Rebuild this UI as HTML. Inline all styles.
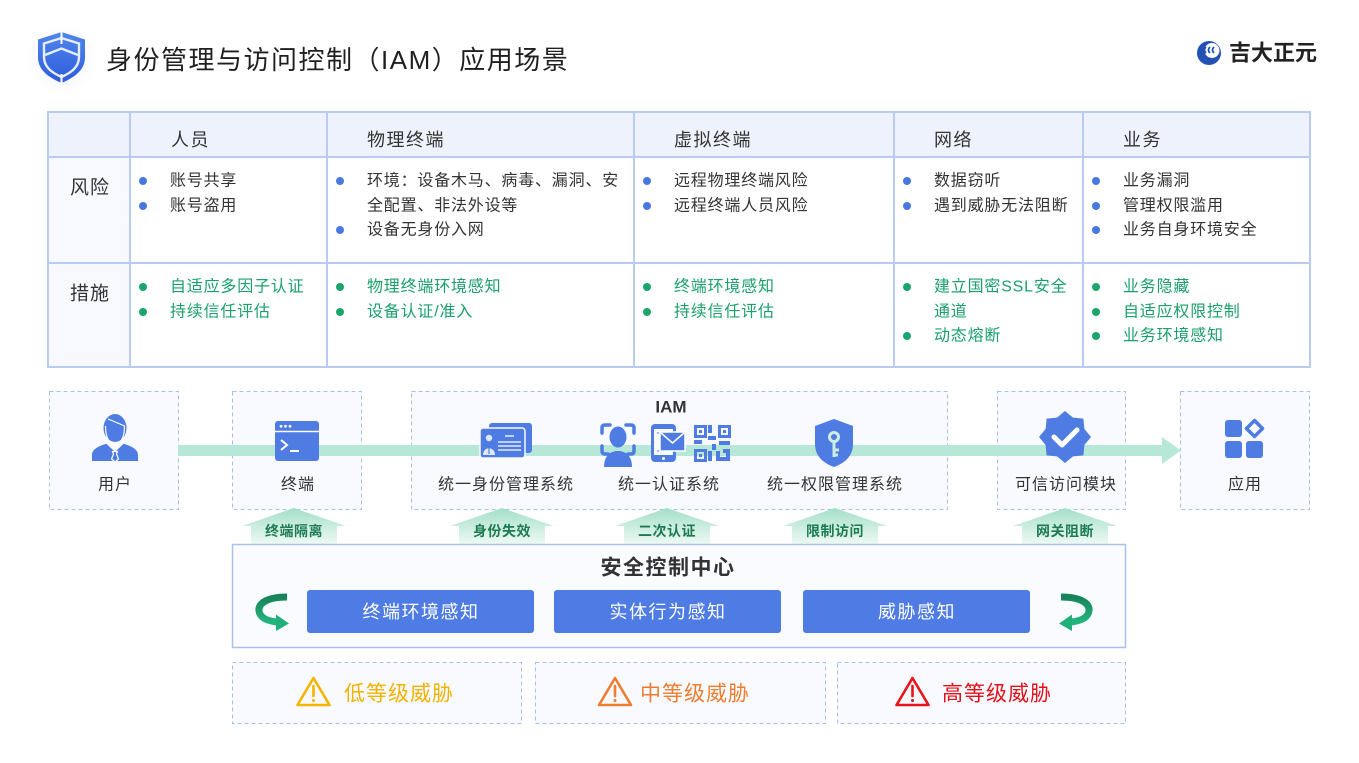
<!DOCTYPE html>
<html><head><meta charset="utf-8"><style>
html,body{margin:0;padding:0;background:#fff;}
svg{display:block;}
text{font-family:"Liberation Sans","Noto Sans CJK SC",sans-serif;}
</style></head><body>
<svg width="1359" height="763" viewBox="0 0 1359 763" xmlns="http://www.w3.org/2000/svg">
<defs>
<radialGradient id="glow" cx="0.5" cy="0.5" r="0.5">
<stop offset="0" stop-color="#d9e2fb"/><stop offset="1" stop-color="#ffffff" stop-opacity="0"/>
</radialGradient>
<linearGradient id="shg" x1="0" y1="0" x2="0" y2="1">
<stop offset="0" stop-color="#4f86ee"/><stop offset="1" stop-color="#2f5cdc"/>
</linearGradient>
<linearGradient id="upg" x1="0" y1="0" x2="0" y2="1">
<stop offset="0" stop-color="#a3dfc8"/><stop offset="1" stop-color="#eef9f4"/>
</linearGradient>
<linearGradient id="cg" x1="0" y1="0" x2="0" y2="1">
<stop offset="0" stop-color="#16835a"/><stop offset="1" stop-color="#24b57e"/>
</linearGradient>
</defs>
<rect width="1359" height="763" fill="#fff"/>

<!-- Title -->
<circle cx="62" cy="60" r="40" fill="url(#glow)"/>
<path d="M61.5,32 L85,39.5 L85,57 C85,70 75,77 61.5,83 C48,77 38,70 38,57 L38,39.5 Z" fill="url(#shg)"/>
<path d="M61.5,38 L79,43.5 L79,57 C79,67 71.5,72.5 61.5,77 C51.5,72.5 44,67 44,57 L44,43.5 Z" fill="none" stroke="#e6edfc" stroke-width="2.4"/>
<path d="M45,55 L61.5,48.5 L78,55" fill="none" stroke="#e6edfc" stroke-width="2.4"/>
<line x1="61.5" y1="32" x2="61.5" y2="44" stroke="#ffffff" stroke-width="2"/>
<line x1="61.5" y1="74" x2="61.5" y2="83" stroke="#ffffff" stroke-width="2"/>
<text x="106" y="60" font-size="26" fill="#1f1f1f" letter-spacing="1.5" dominant-baseline="central">身份管理与访问控制（IAM）应用场景</text>

<!-- Logo -->
<circle cx="1209" cy="53" r="12" fill="#2352b5"/>
<circle cx="1212" cy="50.5" r="7.5" fill="#ffffff"/>
<path d="M1206,47 q-3,3 0,6 M1210,47 q-3,3 0,6 M1214,47 q-3,3 0,6" stroke="#2352b5" stroke-width="1.8" fill="none"/>
<text x="1229" y="53" font-size="22" font-weight="bold" fill="#222" dominant-baseline="central">吉大正元</text>

<!-- Table -->
<rect x="48" y="112" width="1262" height="255" fill="#fff"/>
<rect x="48" y="112" width="1262" height="45" fill="#edf2fc"/>
<rect x="48" y="157" width="82" height="210" fill="#f7f9fe"/>
<g stroke="#b9cbf0" stroke-width="2" fill="none">
<rect x="48" y="112" width="1262" height="255"/>
<line x1="48" y1="157" x2="1310" y2="157"/>
<line x1="48" y1="263" x2="1310" y2="263"/>
<line x1="130" y1="112" x2="130" y2="367"/>
<line x1="327" y1="112" x2="327" y2="367"/>
<line x1="634" y1="112" x2="634" y2="367"/>
<line x1="894" y1="112" x2="894" y2="367"/>
<line x1="1083" y1="112" x2="1083" y2="367"/>
</g>
<g font-size="18" fill="#333" letter-spacing="1.5" dominant-baseline="central">
<text x="171" y="140">人员</text>
<text x="367" y="140">物理终端</text>
<text x="674" y="140">虚拟终端</text>
<text x="934" y="140">网络</text>
<text x="1123" y="140">业务</text>
</g>
<g font-size="19" fill="#333" letter-spacing="1" dominant-baseline="central">
<text x="70" y="188">风险</text>
<text x="70" y="294">措施</text>
</g>
<g fill="#4a78e0">
<circle cx="143" cy="181" r="4"/><circle cx="143" cy="206" r="4"/>
<circle cx="340" cy="181" r="4"/><circle cx="340" cy="230" r="4"/>
<circle cx="647" cy="181" r="4"/><circle cx="647" cy="206" r="4"/>
<circle cx="907" cy="181" r="4"/><circle cx="907" cy="206" r="4"/>
<circle cx="1096" cy="181" r="4"/><circle cx="1096" cy="206" r="4"/><circle cx="1096" cy="230" r="4"/>
</g>
<g fill="#1aa56e">
<circle cx="143" cy="287" r="4"/><circle cx="143" cy="312" r="4"/>
<circle cx="340" cy="287" r="4"/><circle cx="340" cy="312" r="4"/>
<circle cx="647" cy="287" r="4"/><circle cx="647" cy="312" r="4"/>
<circle cx="907" cy="287" r="4"/><circle cx="907" cy="336" r="4"/>
<circle cx="1096" cy="287" r="4"/><circle cx="1096" cy="312" r="4"/><circle cx="1096" cy="336" r="4"/>
</g>
<g font-size="16" fill="#333" letter-spacing="0.8" dominant-baseline="central">
<text x="170" y="181">账号共享</text>
<text x="170" y="206">账号盗用</text>
<text x="367" y="181">环境：设备木马、病毒、漏洞、安</text>
<text x="367" y="206">全配置、非法外设等</text>
<text x="367" y="230">设备无身份入网</text>
<text x="674" y="181">远程物理终端风险</text>
<text x="674" y="206">远程终端人员风险</text>
<text x="934" y="181">数据窃听</text>
<text x="934" y="206">遇到威胁无法阻断</text>
<text x="1123" y="181">业务漏洞</text>
<text x="1123" y="206">管理权限滥用</text>
<text x="1123" y="230">业务自身环境安全</text>
</g>
<g font-size="16" fill="#1aa06b" letter-spacing="0.8" dominant-baseline="central">
<text x="170" y="287">自适应多因子认证</text>
<text x="170" y="312">持续信任评估</text>
<text x="367" y="287">物理终端环境感知</text>
<text x="367" y="312">设备认证/准入</text>
<text x="674" y="287">终端环境感知</text>
<text x="674" y="312">持续信任评估</text>
<text x="934" y="287">建立国密SSL安全</text>
<text x="934" y="312">通道</text>
<text x="934" y="336">动态熔断</text>
<text x="1123" y="287">业务隐藏</text>
<text x="1123" y="312">自适应权限控制</text>
<text x="1123" y="336">业务环境感知</text>
</g>

<!-- Flow boxes -->
<g fill="#f8faff" stroke="#a6bff0" stroke-width="1" stroke-dasharray="4 3">
<rect x="49.5" y="391.5" width="129" height="118"/>
<rect x="232.5" y="391.5" width="129" height="118"/>
<rect x="411.5" y="391.5" width="536" height="118"/>
<rect x="997.5" y="391.5" width="128" height="118"/>
<rect x="1180.5" y="391.5" width="129" height="118"/>
</g>
<!-- band -->
<rect x="178" y="445" width="984" height="11" fill="#b7e8d7"/>
<polygon points="1162,437 1181,450.5 1162,464" fill="#b7e8d7"/>

<text x="671" y="407" font-size="17" font-weight="bold" fill="#333" text-anchor="middle" dominant-baseline="central">IAM</text>

<!-- user icon -->
<g fill="#4e7ce3">
<ellipse cx="115" cy="428" rx="11.5" ry="14"/>
<path d="M92,461 L92,455 C92,449 99,446 107,443.5 L115,450 L123,443.5 C131,446 138,449 138,455 L138,461 Z"/>
</g>
<path d="M105.5,426 C105.5,439 110,444 115,444 C120,444 124.5,439 124.5,426 C120,424 113,421 108,419" fill="none" stroke="#fff" stroke-width="1.2"/>
<path d="M107,443.5 L115,451 L123,443.5" fill="none" stroke="#fff" stroke-width="1.2"/>
<path d="M112.5,451.5 L117.5,451.5 L116.5,454 L118.5,459 L115,462 L111.5,459 L113.5,454 Z" fill="#4e7ce3" stroke="#fff" stroke-width="1.2"/>

<!-- terminal icon -->
<rect x="275" y="421" width="44" height="40" rx="3" fill="#4e7ce3"/>
<line x1="275" y1="431.5" x2="319" y2="431.5" stroke="#fff" stroke-width="1.6"/>
<g fill="#fff"><circle cx="281" cy="426.3" r="1.4"/><circle cx="285.5" cy="426.3" r="1.4"/><circle cx="290" cy="426.3" r="1.4"/></g>
<polyline points="281,440 287,445 281,450" fill="none" stroke="#fff" stroke-width="2"/>
<line x1="290" y1="451" x2="299" y2="451" stroke="#fff" stroke-width="2"/>

<!-- ID card -->
<rect x="489" y="423" width="43" height="30" rx="3" fill="#4e7ce3"/>
<rect x="480" y="428" width="45" height="30" rx="3" fill="#4e7ce3" stroke="#f8faff" stroke-width="1.5"/>
<circle cx="489" cy="438" r="3.2" fill="#dfe8fb"/>
<path d="M483,455 C483,446 495,446 495,455 Z" fill="#dfe8fb"/>
<line x1="489" y1="445" x2="489" y2="454" stroke="#4e7ce3" stroke-width="1.2"/>
<g stroke="#fff" stroke-width="1.3">
<line x1="505" y1="436" x2="514" y2="436"/>
<line x1="498" y1="442" x2="521" y2="442"/>
<line x1="498" y1="446" x2="521" y2="446"/>
<line x1="498" y1="450" x2="521" y2="450"/>
</g>

<!-- face icon -->
<g stroke="#4e7ce3" stroke-width="3.5" fill="none" stroke-linecap="round">
<path d="M602,433 L602,428 Q602,425 605,425 L610,425"/>
<path d="M626,425 L631,425 Q634,425 634,428 L634,433"/>
<path d="M602,446 L602,451 Q602,454 605,454 L608,454"/>
<path d="M634,446 L634,451 Q634,454 631,454 L628,454"/>
</g>
<ellipse cx="618" cy="437" rx="8.5" ry="10.5" fill="#4e7ce3"/>
<path d="M604,467 C604,456 610,451 618,451 C626,451 632,456 632,467 Z" fill="#4e7ce3"/>

<!-- phone icon -->
<rect x="651" y="424" width="25" height="38" rx="4" fill="#4e7ce3"/>
<rect x="654" y="429" width="19" height="26" fill="#f8faff"/>
<circle cx="663.5" cy="458.5" r="1.5" fill="#fff"/>
<line x1="657" y1="433" x2="661" y2="433" stroke="#4e7ce3" stroke-width="1"/>
<line x1="657" y1="451" x2="661" y2="451" stroke="#4e7ce3" stroke-width="1"/>
<rect x="660" y="432" width="25" height="19" fill="#4e7ce3" stroke="#fff" stroke-width="1.5"/>
<polyline points="661,433 672.5,443 684,433" fill="none" stroke="#fff" stroke-width="1.5"/>

<!-- QR icon -->
<g fill="none" stroke="#4e7ce3" stroke-width="3">
<rect x="695.5" y="426.5" width="10" height="10"/>
<rect x="719.5" y="426.5" width="10" height="10"/>
<rect x="695.5" y="450.5" width="10" height="10"/>
</g>
<g fill="#4e7ce3">
<rect x="699" y="430" width="3" height="3"/><rect x="723" y="430" width="3" height="3"/><rect x="699" y="454" width="3" height="3"/>
<rect x="708" y="425" width="4" height="8"/><rect x="708" y="436" width="8" height="4"/>
<rect x="694" y="440" width="8" height="4"/><rect x="712" y="444" width="4" height="6"/>
<rect x="719" y="441" width="11" height="4"/><rect x="708" y="451" width="4" height="10"/>
<rect x="716" y="451" width="4" height="10"/><rect x="723" y="449" width="7" height="4"/>
<rect x="726" y="453" width="4" height="8"/><rect x="716" y="457" width="10" height="4"/>
</g>

<!-- key shield -->
<path d="M834,419 L853,426 L853,444 C853,456 845,463 834,467 C823,463 815,456 815,444 L815,426 Z" fill="#4e7ce3"/>
<circle cx="834" cy="437" r="4.5" fill="none" stroke="#cdeee0" stroke-width="3"/>
<g stroke="#cdeee0" stroke-width="3"><line x1="834" y1="441.5" x2="834" y2="457"/><line x1="834" y1="450" x2="839" y2="450"/><line x1="834" y1="455" x2="838" y2="455"/></g>

<!-- badge -->
<polygon points="1065,411 1073,417.6 1083.4,418.6 1084.4,429 1091,437 1084.4,445 1083.4,455.4 1073,456.4 1065,463 1057,456.4 1046.6,455.4 1045.6,445 1039,437 1045.6,429 1046.6,418.6 1057,417.6" fill="#4e7ce3"/>
<polyline points="1054,437 1062,445 1077,430" fill="none" stroke="#fff" stroke-width="5" stroke-linecap="round" stroke-linejoin="round"/>

<!-- app icon -->
<g fill="#4e7ce3">
<rect x="1225" y="420" width="17" height="17" rx="3"/>
<rect x="1225" y="441" width="17" height="17" rx="3"/>
<rect x="1246" y="441" width="17" height="17" rx="3"/>
</g>
<path d="M1254.5,420.5 L1262.5,428.5 L1254.5,436.5 L1246.5,428.5 Z" fill="none" stroke="#4e7ce3" stroke-width="3.5" stroke-linejoin="round"/>

<!-- flow labels -->
<g font-size="16" fill="#333" letter-spacing="1" text-anchor="middle" dominant-baseline="central">
<text x="115" y="485">用户</text>
<text x="298" y="485">终端</text>
<text x="506" y="485">统一身份管理系统</text>
<text x="669" y="485">统一认证系统</text>
<text x="835" y="485">统一权限管理系统</text>
<text x="1066" y="485">可信访问模块</text>
<text x="1245" y="485">应用</text>
</g>

<!-- up arrows -->
<g fill="url(#upg)">
<polygon points="242,526 294,508 346,526 337,526 337,544 251,544 251,526"/>
<polygon points="450,526 502,508 554,526 545,526 545,544 459,544 459,526"/>
<polygon points="615,526 667,508 719,526 710,526 710,544 624,544 624,526"/>
<polygon points="783,526 835,508 887,526 878,526 878,544 792,544 792,526"/>
<polygon points="1013,526 1065,508 1117,526 1108,526 1108,544 1022,544 1022,526"/>
</g>
<g font-size="14" font-weight="bold" fill="#1d7b52" text-anchor="middle" dominant-baseline="central" letter-spacing="0.5">
<text x="294" y="531">终端隔离</text>
<text x="502" y="531">身份失效</text>
<text x="667" y="531">二次认证</text>
<text x="835" y="531">限制访问</text>
<text x="1065" y="531">网关阻断</text>
</g>

<!-- security center -->
<rect x="232.5" y="544.5" width="893" height="103" fill="#f9fbff" stroke="#a9c0ea" stroke-width="1.5"/>
<text x="668" y="568" font-size="21" font-weight="bold" fill="#333" letter-spacing="1.5" text-anchor="middle" dominant-baseline="central">安全控制中心</text>
<g fill="#4e7be4">
<rect x="307" y="590" width="227" height="43" rx="3"/>
<rect x="554" y="590" width="227" height="43" rx="3"/>
<rect x="803" y="590" width="227" height="43" rx="3"/>
</g>
<g font-size="18" fill="#fff" letter-spacing="1.5" text-anchor="middle" dominant-baseline="central">
<text x="421" y="612">终端环境感知</text>
<text x="668" y="612">实体行为感知</text>
<text x="917" y="612">威胁感知</text>
</g>
<path d="M287,597 C268,597 258,603 259,611 C260,618 268,621 277,622" fill="none" stroke="url(#cg)" stroke-width="7"/>
<polygon points="276,614.5 289,623.5 276,631" fill="#22b07a"/>
<path d="M1061,597 C1080,597 1090,603 1089,611 C1088,618 1080,621 1071,622" fill="none" stroke="url(#cg)" stroke-width="7"/>
<polygon points="1072,614.5 1059,623.5 1072,631" fill="#22b07a"/>

<!-- threat boxes -->
<g fill="#f8faff" stroke="#a6bff0" stroke-width="1" stroke-dasharray="4 3">
<rect x="232.5" y="662.5" width="289" height="61"/>
<rect x="535.5" y="662.5" width="290" height="61"/>
<rect x="837.5" y="662.5" width="288" height="61"/>
</g>
<g fill="none" stroke-width="2.6" stroke-linejoin="round" stroke-linecap="round">
<path d="M313.5,678 L329.5,705 L297.5,705 Z" stroke="#f5b400"/>
<line x1="313.5" y1="686" x2="313.5" y2="696" stroke="#f5b400"/>
<path d="M615,678 L631,705 L599,705 Z" stroke="#ee7d30"/>
<line x1="615" y1="686" x2="615" y2="696" stroke="#ee7d30"/>
<path d="M912.5,678 L928.5,705 L896.5,705 Z" stroke="#e8131b"/>
<line x1="912.5" y1="686" x2="912.5" y2="696" stroke="#e8131b"/>
</g>
<circle cx="313.5" cy="700.5" r="1.5" fill="#f5b400"/>
<circle cx="615" cy="700.5" r="1.5" fill="#ee7d30"/>
<circle cx="912.5" cy="700.5" r="1.5" fill="#e8131b"/>
<g font-size="21" letter-spacing="1" dominant-baseline="central">
<text x="344" y="694" fill="#f2b200">低等级威胁</text>
<text x="640" y="694" fill="#ee7d30">中等级威胁</text>
<text x="942" y="694" fill="#e3101a">高等级威胁</text>
</g>
</svg>
</body></html>
